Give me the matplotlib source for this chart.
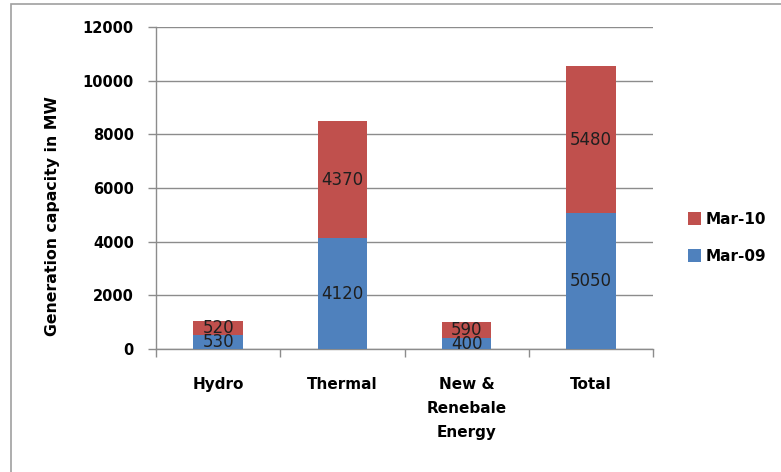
import matplotlib
matplotlib.use("Agg")
import matplotlib.pyplot as plt
from matplotlib.patches import Rectangle
import numpy as np

categories = ["Hydro", "Thermal", "New &\nRenebale\nEnergy", "Total"]
mar_09 = [530, 4120, 400, 5050]
mar_10 = [520, 4370, 590, 5480]
series_names = ["Mar-09", "Mar-10"]
y_ticks = [0, 2000, 4000, 6000, 8000, 10000, 12000]

BLUE = "#4F81BD"
RED = "#C0504D"
GRID = "#8C8C8C"
FONT = "DejaVu Sans"

W, H = 781, 472
fig = plt.figure(figsize=(W / 100, H / 100), dpi=100)

# outer chart frame
fig.patches.append(Rectangle((11 / W, -0.05), 1.1, 1 - 4 / H + 0.05,
                             transform=fig.transFigure, fill=False,
                             edgecolor="#A0A0A0", linewidth=1.2))

left, right = 156 / W, 653 / W
top, bottom = 1 - 27 / H, 1 - 349 / H
ax = fig.add_axes([left, bottom, right - left, top - bottom])

x = np.arange(len(categories))
width = 0.4
b1 = ax.bar(x, mar_09, width, color=BLUE, label=series_names[0], zorder=3)
b2 = ax.bar(x, mar_10, width, bottom=mar_09, color=RED, label=series_names[1], zorder=3)

for bars, vals, base in ((b1, mar_09, [0] * 4), (b2, mar_10, mar_09)):
    for xi, v, b0 in zip(x, vals, base):
        ax.text(xi, b0 + v / 2, f"{v}", ha="center", va="center",
                fontsize=12, family=FONT, color="#1F1F1F", zorder=4)

ax.set_xlim(-0.5, len(categories) - 0.5)
ax.set_ylim(0, 12000)
ax.set_yticks(y_ticks)
ax.set_yticklabels([str(t) for t in y_ticks], fontsize=10.5, fontweight="bold", family=FONT)
ax.yaxis.grid(True, color=GRID, linewidth=1.0, zorder=0)
ax.set_axisbelow(True)

ax.set_xticks(x)
ax.set_xticklabels(categories, fontsize=11, fontweight="bold", family=FONT,
                   linespacing=1.75, va="top")
ax.tick_params(axis="x", which="major", length=0, pad=20)
ax.set_xticks(np.arange(len(categories) + 1) - 0.5, minor=True)
ax.tick_params(axis="x", which="minor", length=6, color=GRID, width=1.0)
ax.tick_params(axis="y", length=6, color=GRID, width=1.0, pad=10)

for s in ("top", "right"):
    ax.spines[s].set_visible(False)
for s in ("left", "bottom"):
    ax.spines[s].set_color(GRID)
    ax.spines[s].set_linewidth(1.0)

fig.text(53 / W, 1 - 216 / H, "Generation capacity in MW", rotation=90,
         ha="center", va="center", fontsize=11.3, fontweight="bold", family=FONT)

handles = [b2, b1]
leg = fig.legend(handles, [series_names[1], series_names[0]],
                 loc="center left", bbox_to_anchor=(674 / W, 1 - 238 / H),
                 frameon=False, prop={"family": FONT, "weight": "bold", "size": 11},
                 handlelength=0.85, handleheight=0.9, handletextpad=0.35,
                 labelspacing=1.45)

fig.savefig("out.png", dpi=100)
